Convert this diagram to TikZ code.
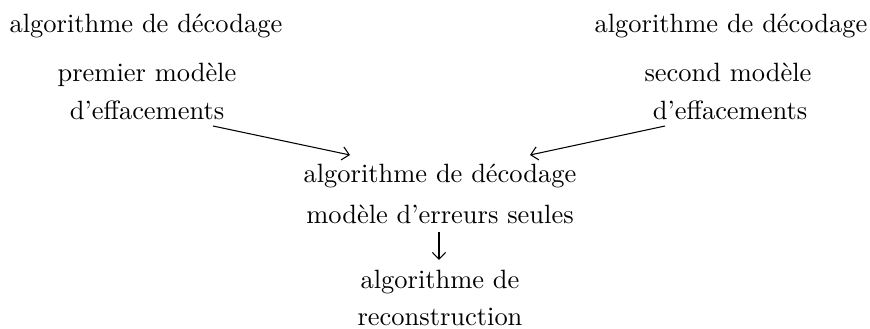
\documentclass[tikz,border=0pt]{standalone}
\usepackage{fontspec}
\usetikzlibrary{arrows.meta}
\begin{document}
\begin{tikzpicture}[x=0.378pt,y=-0.378pt,
  txt/.style={anchor=base,inner sep=0pt,font=\fontsize{10}{12}\selectfont},
  conn/.style={draw,line width=0.4pt,-{Straight Barb[length=2.6pt,width=5pt]}}]
\useasboundingbox (0,0) rectangle (870,329);
% left block
\node[txt] (l1) at (146,32) {algorithme de décodage};
\node[txt] (l2) at (147,81) {premier modèle};
\node[txt] (l3) at (147,119) {d’effacements};
% right block
\node[txt] (r1) at (731,32) {algorithme de décodage};
\node[txt] (r2) at (728,81) {second modèle};
\node[txt] (r3) at (730,119) {d’effacements};
% middle block
\node[txt] (m1) at (440,182) {algorithme de décodage};
\node[txt] (m2) at (440,223) {modèle d’erreurs seules};
% bottom block
\node[txt] (b1) at (440,288) {algorithme de};
\node[txt] (b2) at (440,325) {reconstruction};
% connector end points
\coordinate (ls) at (213,126);
\coordinate (le) at (350,155);
\coordinate (rs) at (665,126);
\coordinate (re) at (530,155);
\coordinate (ds) at (439,232);
\coordinate (de) at (439,260);
\draw[conn] (ls) -- (le);
\draw[conn] (rs) -- (re);
\draw[conn] (ds) -- (de);
\end{tikzpicture}
\end{document}
